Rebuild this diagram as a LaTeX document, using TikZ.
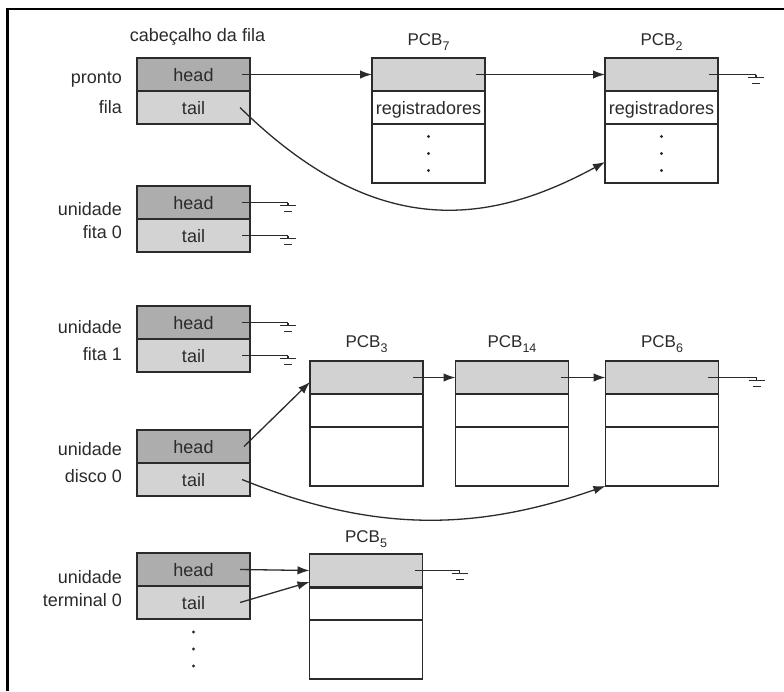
\documentclass[tikz,border=0pt]{standalone}
\usepackage{fontspec}
\setmainfont{Liberation Sans}
\usetikzlibrary{arrows.meta}
\definecolor{hdgray}{HTML}{ADADAD}
\definecolor{tlgray}{HTML}{D3D3D3}
\definecolor{pcbgray}{HTML}{D2D2D2}
\definecolor{ink}{HTML}{2B2B2B}
\newcommand\pcbname[1]{PCB\raisebox{-0.3em}{\fontsize{12.5}{12.5}\selectfont #1}}
\begin{document}
\begin{tikzpicture}[x=1pt,y=-1pt,
 every node/.style={inner sep=0pt, outer sep=0pt, text=ink},
 txt/.style={font=\fontsize{18}{21}\selectfont, text height=13pt, text depth=0pt},
 cell/.style={draw=ink, line width=1.4pt, minimum width=113pt, txt},
 hd/.style={cell, fill=hdgray, minimum height=33pt},
 tl/.style={cell, fill=tlgray, minimum height=33pt},
 ptop/.style={cell, fill=pcbgray, minimum height=33pt},
 pmid/.style={cell, fill=white, minimum height=33pt},
 pbot/.style={cell, fill=white, minimum height=59pt},
 lab/.style={txt, anchor=east},
 plab/.style={font=\fontsize{17}{19}\selectfont, anchor=base},
 ln/.style={draw=ink, line width=1.3pt},
 arr/.style={ln, -{Latex[length=12pt,width=8.5pt]}},
 gnd/.pic={\draw[ln] (0,0) -- (0,3) (-8,3) -- (8,3) (-4,9) -- (4,9);},
 dot/.style={fill=ink}
]
\useasboundingbox (0,0) rectangle (784,691);
\fill[white] (0,0) rectangle (784,691);
\draw[black, line width=2.5pt] (7.5,691) -- (7.5,9) -- (784,9);

% header title
\node[plab, font=\fontsize{18}{20}\selectfont] (title) at (197.5,41) {cabeçalho da fila};

% queue headers
\node[hd] (ph) at (193.5,74.5) {head};
\node[tl] (pt) at (193.5,107.5) {tail};
\node[lab] (l1a) at (122,77) {pronto};
\node[lab] (l1b) at (122,106.5) {fila};

\node[hd] (f0h) at (193.5,202.5) {head};
\node[tl] (f0t) at (193.5,235.5) {tail};
\node[lab] (l2a) at (122,208.5) {unidade};
\node[lab] (l2b) at (122,232) {fita 0};

\node[hd] (f1h) at (193.5,322.5) {head};
\node[tl] (f1t) at (193.5,355.5) {tail};
\node[lab] (l3a) at (122,327) {unidade};
\node[lab] (l3b) at (122,354) {fita 1};

\node[hd] (dh) at (193.5,446.5) {head};
\node[tl] (dt) at (193.5,479.5) {tail};
\node[lab] (l4a) at (122,449) {unidade};
\node[lab] (l4b) at (122,476) {disco 0};

\node[hd] (th) at (193.5,569.5) {head};
\node[tl] (tt) at (193.5,602.5) {tail};
\node[lab] (l5a) at (122,576.5) {unidade};
\node[lab] (l5b) at (122,600) {terminal 0};

% PCB7
\node[ptop] (p7a) at (428.5,74.5) {};
\node[pmid] (p7b) at (428.5,107.5) {registradores};
\node[pbot] (p7c) at (428.5,153.5) {};
\node[plab] (p7l) at (428.5,45) {\pcbname{7}};
% PCB2
\node[ptop] (p2a) at (661.5,74.5) {};
\node[pmid] (p2b) at (661.5,107.5) {registradores};
\node[pbot] (p2c) at (661.5,153.5) {};
\node[plab] (p2l) at (661.5,45) {\pcbname{2}};
% PCB3
\node[ptop] (p3a) at (366.5,377.5) {};
\node[pmid] (p3b) at (366.5,410.5) {};
\node[pbot] (p3c) at (366.5,456.5) {};
\node[plab] (p3l) at (366.5,347) {\pcbname{3}};
% PCB14
\node[ptop] (p14a) at (512,377.5) {};
\node[pmid] (p14b) at (512,410.5) {};
\node[pbot] (p14c) at (512,456.5) {};
\node[plab] (p14l) at (512,347) {\pcbname{14}};
% PCB6
\node[ptop] (p6a) at (662,377.5) {};
\node[pmid] (p6b) at (662,410.5) {};
\node[pbot] (p6c) at (662,456.5) {};
\node[plab] (p6l) at (662,347) {\pcbname{6}};
% PCB5
\node[ptop] (p5a) at (366,570.5) {};
\node[pmid] (p5b) at (366,603.5) {};
\node[pbot] (p5c) at (366,649.5) {};
\node[plab] (p5l) at (366,542) {\pcbname{5}};
\draw[ink, line width=3pt] (p5b.north west) -- (p5b.north east);

% dots
\foreach \d in {-17,0,17} {
  \fill[dot] ([yshift=\d pt]p7c.center) circle (1.7pt);
  \fill[dot] ([yshift=\d pt]p2c.center) circle (1.7pt);
}
\foreach \d in {13,30,47} \fill[dot] ([yshift=-\d pt]tt.south) circle (1.7pt);

% connectors: pronto
\draw[arr] ([xshift=-8pt]ph.east) -- (p7a.west);
\draw[arr] ([xshift=-9pt]p7a.east) -- (p2a.west);
\draw[ln] ([xshift=-9pt]p2a.east) -- ++(47,0) pic {gnd};
\draw[arr] ([xshift=-10pt]pt.east) .. controls (370,235) and (480,230) .. ([yshift=-8.5pt]p2c.west);

% fita 0 / fita 1
\draw[ln] ([xshift=-8pt]f0h.east) -- ++(46,0) pic {gnd};
\draw[ln] ([xshift=-8pt]f0t.east) -- ++(46,0) pic {gnd};
\draw[ln] ([xshift=-8pt]f1h.east) -- ++(46,0) pic {gnd};
\draw[ln] ([xshift=-8pt]f1t.east) -- ++(46,0) pic {gnd};

% disco 0
\draw[arr] ([xshift=-6pt]dh.east) -- ([yshift=-4.5pt]p3a.west);
\draw[arr] ([xshift=-10pt]p3a.east) -- (p14a.west);
\draw[arr] ([xshift=-8pt]p14a.east) -- (p6a.west);
\draw[ln] ([xshift=-11pt]p6a.east) -- ++(49,0) pic {gnd};
\draw[arr] ([xshift=-8pt]dt.east) .. controls (372,532) and (473,532) .. (p6c.south west);

% terminal 0
\draw[arr] ([xshift=-10pt]th.east) -- (p5a.west);
\draw[arr] ([xshift=-10pt]tt.east) -- ([yshift=-11.5pt]p5a.west);
\draw[ln] ([xshift=-8pt]p5a.east) -- ++(45,0) pic {gnd};
\end{tikzpicture}
\end{document}
